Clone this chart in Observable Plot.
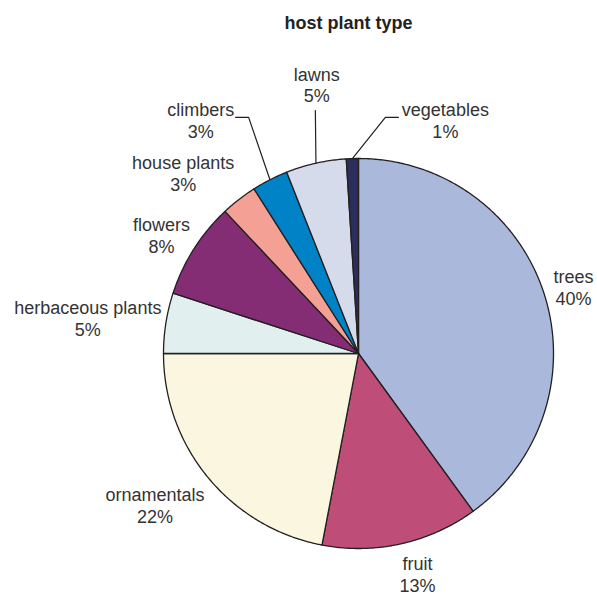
<!DOCTYPE html>
<html>
<head>
<meta charset="utf-8">
<script src="https://cdn.jsdelivr.net/npm/d3@7"></script>
<script src="https://cdn.jsdelivr.net/npm/@observablehq/plot@0.6"></script>
<style>
  body { margin: 0; background: #fff; }
</style>
</head>
<body>
<div id="chart"></div>
<script>
// Host plant types, share of records (%), clockwise from 12 o'clock
const categories = ["trees", "fruit", "ornamentals", "herbaceous plants", "flowers", "house plants", "climbers", "lawns", "vegetables"];
const shares = [40, 13, 22, 5, 8, 3, 3, 5, 1];
const colors = ["#aab8dc", "#be4e78", "#fbf6df", "#e1f0ef", "#842d74", "#f4a095", "#0082c6", "#d6dbec", "#2b2d5b"];
const chartTitle = "host plant type";

// Layout: pie centre and radius (px)
const R = 195, CX = 358, CY = 353;
// Label placement: distance from centre (in radii) and angular nudge (deg) from the slice middle
const labelRadius = [1.155, 1.17, 1.30, 1.40, 1.18, 1.29, 1.444, 1.396, 1.278];
const labelNudge = [0.7, -2.4, 3.0, -1.5, -1.3, -6.4, -7.1, 3.8, 22.2];
// Leader lines: hook points (px offsets from the label centre), nearest to the pie first
const leaderHooks = {
  "climbers": [[48, -3], [35, -3]],
  "lawns": [[-1.5, 26]],
  "vegetables": [[-60, -2.5], [-47, -2.5]]
};

const rows = categories.map((category, i) => ({category, share: shares[i]}));
const arcs = d3.pie().sort(null).value(d => d.share)(rows);
const polar = (r, a) => ({x: r * Math.sin(a), y: r * Math.cos(a)});

// Wedge outlines in unit-circle coordinates
const slicePts = arcs.flatMap(a => {
  const n = Math.max(2, Math.ceil((a.endAngle - a.startAngle) / (Math.PI / 360)));
  const pts = [{category: a.data.category, x: 0, y: 0}];
  for (let k = 0; k <= n; ++k) {
    const t = a.startAngle + (a.endAngle - a.startAngle) * k / n;
    pts.push({category: a.data.category, ...polar(1, t)});
  }
  return pts;
});

const labels = arcs.map((a, i) => {
  const mid = (a.startAngle + a.endAngle) / 2 + labelNudge[i] * Math.PI / 180;
  return {category: a.data.category, text: `${a.data.category}\n${a.data.share}%`, mid: (a.startAngle + a.endAngle) / 2, ...polar(labelRadius[i], mid)};
});

const leaderPts = labels.filter(l => leaderHooks[l.category]).flatMap(l => {
  const edge = polar(1, l.mid);
  const hooks = leaderHooks[l.category].map(([dx, dy]) => ({x: l.x + dx / R, y: l.y - dy / R}));
  return [edge, ...hooks].map(p => ({category: l.category, ...p}));
});

const chart = Plot.plot({
  width: 597,
  height: 598,
  margin: 0,
  style: {fontFamily: "'Liberation Sans', Arial, sans-serif", background: "#fff"},
  x: {domain: [-1, 1], range: [CX - R, CX + R], axis: null},
  y: {domain: [-1, 1], range: [CY + R, CY - R], axis: null},
  color: {domain: categories, range: colors},
  marks: [
    Plot.line(slicePts, {x: "x", y: "y", z: "category", fill: "category", stroke: "#231f20", strokeWidth: 1.3, strokeLinejoin: "round", curve: "linear-closed"}),
    Plot.line(leaderPts, {x: "x", y: "y", z: "category", stroke: "#231f20", strokeWidth: 1.2}),
    Plot.text(labels, {x: "x", y: "y", text: "text", fontSize: 18, lineHeight: 1.22, fill: "#333"}),
    Plot.text([chartTitle], {frameAnchor: "top-left", dx: 348, dy: 23, lineAnchor: "middle", textAnchor: "middle", fontSize: 18, fontWeight: "bold", fill: "#222"})
  ]
});
document.getElementById("chart").append(chart);
</script>
</body>
</html>
